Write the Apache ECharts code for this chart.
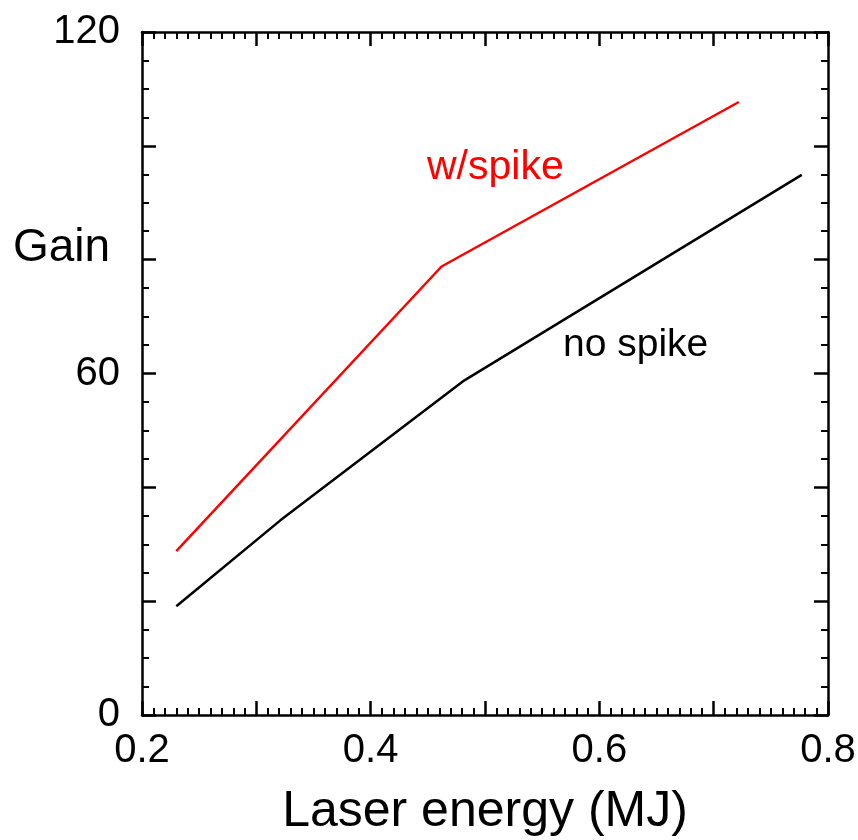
<!DOCTYPE html>
<html>
<head>
<meta charset="utf-8">
<script src="https://cdn.jsdelivr.net/npm/echarts@6/dist/echarts.min.js"></script>
<style>html,body{margin:0;padding:0;background:#fff;}#c{width:858px;height:840px;}</style>
</head>
<body>
<div id="c"></div>
<script>
const xTicks = [0.2, 0.4, 0.6, 0.8];
const yTicks = [0, 60, 120];
const energySpike = [0.23, 0.462, 0.722];
const gainSpike = [28.8, 78.8, 107.7];
const energyNoSpike = [0.23, 0.321, 0.482, 0.777];
const gainNoSpike = [19.1, 34.2, 58.8, 94.9];
const seriesNames = ['w/spike', 'no spike'];

const FONT = 'Liberation Sans';
const chart = echarts.init(document.getElementById('c'));
const near = (v, arr) => arr.some(t => Math.abs(t - v) < 1e-6);

function axisCommon(showLabel, isX) {
  return {
    axisLine: { show: true, onZero: false, lineStyle: { color: '#000', width: 2.5 } },
    axisTick: { show: true, inside: true, length: 14, lineStyle: { color: '#000', width: 2.5 } },
    minorTick: { show: true, splitNumber: isX ? 10 : 4, length: 7, lineStyle: { color: '#000', width: 2 } },
    splitLine: { show: false },
    minorSplitLine: { show: false },
    axisLabel: showLabel ? {
      show: true, color: '#000', fontFamily: FONT, fontSize: 40,
      margin: isX ? 16 : 22,
      formatter: v => near(v, isX ? xTicks : yTicks) ? String(isX ? (+v).toFixed(1) : Math.round(v)) : ''
    } : { show: false }
  };
}

chart.setOption({
  animation: false,
  grid: { left: 142, right: 30, top: 32, bottom: 125, containLabel: false, outerBoundsMode: 'none' },
  xAxis: [
    Object.assign({ type: 'value', min: 0.2, max: 0.8, interval: 0.1, position: 'bottom',
      name: 'Laser energy (MJ)', nameLocation: 'middle', nameGap: 72,
      nameTextStyle: { color: '#000', fontFamily: FONT, fontSize: 50 } }, axisCommon(true, true)),
    Object.assign({ type: 'value', min: 0.2, max: 0.8, interval: 0.1, position: 'top' }, axisCommon(false, true))
  ],
  yAxis: [
    Object.assign({ type: 'value', min: 0, max: 120, interval: 20, position: 'left' }, axisCommon(true, false)),
    Object.assign({ type: 'value', min: 0, max: 120, interval: 20, position: 'right' }, axisCommon(false, false))
  ],
  graphic: [
    { type: 'text', left: 13, top: 225, style: { text: 'Gain', fill: '#000', font: '46px "' + FONT + '"' } },
    { type: 'text', left: 427, top: 147, style: { text: seriesNames[0], fill: '#ff0000', font: '41px "' + FONT + '"' } },
    { type: 'text', left: 563, top: 326, style: { text: seriesNames[1], fill: '#000', font: '39px "' + FONT + '"' } }
  ],
  series: [
    { name: seriesNames[0], type: 'line', symbol: 'none', lineStyle: { color: '#ff0000', width: 2.5 },
      data: energySpike.map((x, i) => [x, gainSpike[i]]) },
    { name: seriesNames[1], type: 'line', symbol: 'none', lineStyle: { color: '#000', width: 2.5 },
      data: energyNoSpike.map((x, i) => [x, gainNoSpike[i]]) }
  ]
});
</script>
</body>
</html>
